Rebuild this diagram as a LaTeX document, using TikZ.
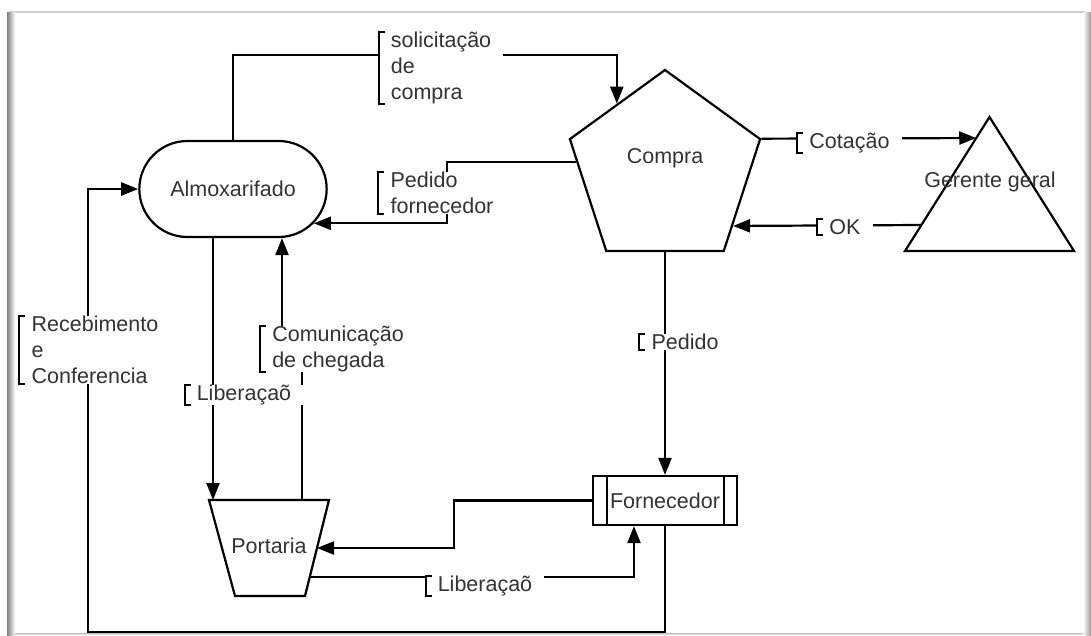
\documentclass[tikz,border=0pt]{standalone}
\usepackage{fontspec}
\setmainfont{Liberation Sans}
\usepackage{tikz}
\usetikzlibrary{shapes.geometric,shapes.misc,arrows.meta,calc}
\newcommand{\diagUnit}[0]{1pt}
\newcommand{\bracketOn}[1]{\draw[brk] ([xshift=6pt]#1.north west) -| (#1.south west) -- ++(6pt,0);}

\begin{document}
\begin{tikzpicture}[x=\diagUnit, y=-\diagUnit]
  \tikzset{every node/.style={font=\fontsize{21.5}{26}\selectfont, text=black!80, align=left},
           proc/.style={draw, line width=2.2pt, align=center},
           flow/.style={draw, line width=2.2pt, -{Triangle[length=17pt,width=13pt]}},
           wire/.style={draw, line width=2.2pt, line join=miter},
           tag/.style={fill=white, inner xsep=12pt, inner ysep=0pt},
           brk/.style={line width=2pt}}
  \useasboundingbox (0,0) rectangle (1091,635);
  \draw[black!20, line width=1.2pt] (9,12) -- (1085,12);
  \shade[left color=black!50, right color=white] (7,12) rectangle (15,635);
  \shade[left color=white, right color=black!40] (1083,12) rectangle (1091,635);
  \shade[top color=black!25, bottom color=white] (15,633) rectangle (1083,635);

  \node[proc, rounded rectangle, minimum width=194pt, minimum height=96pt] (almox) at (233,189) {Almoxarifado};
  \node[proc, regular polygon, regular polygon sides=5, minimum size=200pt,
        label={[yshift=12pt]center:Compra}] (compra) at (665,170) {};
  \coordinate (gtop) at (989.5,117);
  \coordinate (gleft) at (905,251);
  \coordinate (gright) at (1074,251);
  \draw[wire] (gtop) -- (gleft) -- (gright) -- cycle;
  \node (gerente) at (990,182) {Gerente geral};
  \node[proc, minimum width=144pt, minimum height=49pt, inner xsep=0pt] (fornecedor) at (665,500.5) {Fornecedor};
  \draw[wire] ([xshift=15pt]fornecedor.north west) -- ([xshift=15pt]fornecedor.south west);
  \draw[wire] ([xshift=-14pt]fornecedor.north east) -- ([xshift=-14pt]fornecedor.south east);
  \coordinate (ptl) at (209,500);
  \coordinate (ptr) at (329,500);
  \coordinate (pbr) at (305,596);
  \coordinate (pbl) at (235,596);
  \draw[wire] (ptl) -- (ptr) -- (pbr) -- (pbl) -- cycle;
  \node (portaria) at (269,546) {Portaria};
  \coordinate (pfk) at (447,0);
  \coordinate (bl) at (88,632);

  \draw[flow] (almox.north) -- ++(0,-85) -| ($(compra.corner 1)!0.5!(compra.corner 2)$);
  \draw[flow] (compra.175) -- (compra.175 -| pfk) |- (almox.-23);
  \draw[flow] (compra.corner 5) -- ($(gtop)!0.157!(gleft)$);
  \draw[flow] ($(gtop)!0.806!(gleft)$) -- ($(compra.corner 5)!0.77!(compra.corner 4)$);
  \draw[flow] (compra.south) -- (fornecedor.north);
  \draw[flow] (fornecedor.west) -- ++(-138,0) |- ($(ptr)!0.5!(pbr)$);
  \draw[flow] ($(ptr)!0.8!(pbr)$) -| ([xshift=-31pt]fornecedor.south);
  \draw[flow] (fornecedor.south) |- (bl) |- (almox.west);
  \draw[flow] ([xshift=-20pt]almox.south) -- ([xshift=-20pt]almox.south |- ptl);
  \draw[flow] ($(ptl)!0.775!(ptr)$) -- ++(0,-155) -| ([xshift=49pt]almox.south);

  \node[tag] (sol) at (441,68) {solicitação\\de\\compra};
  \node[tag] (pedforn) at (442,193) {Pedido\\fornecedor};
  \node[tag] (cot) at (849.5,143) {Cotação};
  \node[tag] (ok) at (845,227) {OK};
  \node[tag] (pedido) at (685,342) {Pedido};
  \node[tag] (receb) at (95,350) {Recebimento\\e\\Conferencia};
  \node[tag] (lib1) at (244,395) {Liberaçaõ};
  \node[tag] (comun) at (338,349) {Comunicação\\de chegada};
  \node[tag] (lib2) at (485,586) {Liberaçaõ};
  \bracketOn{sol}
  \bracketOn{pedforn}
  \bracketOn{cot}
  \bracketOn{ok}
  \bracketOn{pedido}
  \bracketOn{receb}
  \bracketOn{lib1}
  \bracketOn{comun}
  \bracketOn{lib2}
\end{tikzpicture}
\end{document}
